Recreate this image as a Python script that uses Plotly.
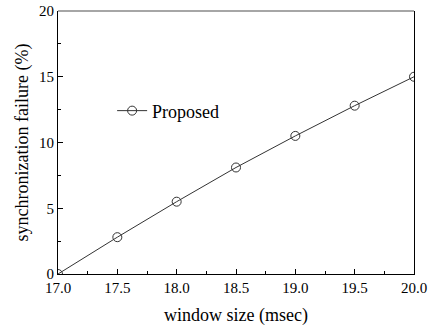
import plotly.graph_objects as go

window_size = [17.0, 17.5, 18.0, 18.5, 19.0, 19.5, 20.0]
sync_failure = [0.0, 2.8, 5.5, 8.1, 10.5, 12.8, 15.0]
series_name = "Proposed"
x_ticks = [17.0, 17.5, 18.0, 18.5, 19.0, 19.5, 20.0]
x_tick_labels = ["17.0", "17.5", "18.0", "18.5", "19.0", "19.5", "20.0"]
y_ticks = [0, 5, 10, 15, 20]

FONT = "Liberation Serif, DejaVu Serif, serif"

fig = go.Figure()
fig.add_trace(go.Scatter(
    x=window_size, y=sync_failure, name=series_name, mode="lines+markers",
    line=dict(color="#333333", width=1),
    marker=dict(symbol="circle-open", size=9, color="#333333", line=dict(width=1)),
    cliponaxis=True,
))

fig.update_layout(
    width=431, height=329,
    margin=dict(l=58, r=17, t=11, b=55, autoexpand=False),
    paper_bgcolor="white", plot_bgcolor="white",
    font=dict(family=FONT, size=15, color="black"),
    showlegend=True,
    legend=dict(x=0.152, y=0.62, xanchor="left", yanchor="middle",
                bgcolor="rgba(0,0,0,0)", font=dict(size=18, family=FONT)),
    xaxis=dict(
        range=[17.0, 20.0], tickvals=x_ticks, ticktext=x_tick_labels,
        showline=True, linecolor="black", linewidth=1, mirror=False,
        ticks="inside", ticklen=5, tickcolor="black",
        minor=dict(ticks="inside", ticklen=3, dtick=0.25, tickcolor="black"),
        showgrid=False, zeroline=False, automargin=False,
        tickfont=dict(size=15, family=FONT),
    ),
    yaxis=dict(
        range=[0, 20], tickvals=y_ticks,
        showline=True, linecolor="black", linewidth=1, mirror=True,
        ticks="inside", ticklen=5, tickcolor="black",
        minor=dict(ticks="inside", ticklen=3, dtick=2.5, tickcolor="black"),
        showgrid=False, zeroline=False, automargin=False,
        tickfont=dict(size=15, family=FONT),
    ),
    shapes=[dict(type="line", xref="paper", yref="paper", x0=0, x1=1, y0=1, y1=1,
                 line=dict(color="#888888", width=1.5))],
    annotations=[
        dict(text="window size (msec)", xref="paper", yref="paper", x=0.5, y=0,
             yshift=-41, xanchor="center", yanchor="middle", showarrow=False,
             font=dict(size=18, family=FONT)),
        dict(text="synchronization failure (%)", xref="paper", yref="paper", x=0, y=0.5,
             xshift=-36, xanchor="center", yanchor="middle", textangle=-90, showarrow=False,
             font=dict(size=18, family=FONT)),
    ],
)

fig.write_html("out.html", config={"displayModeBar": False},
               post_script="document.body.style.margin='0';")
